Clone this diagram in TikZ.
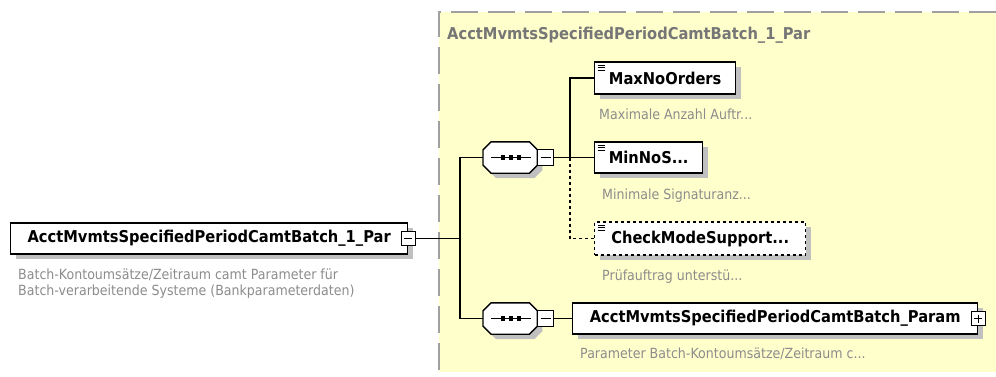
\documentclass[tikz,border=0pt]{standalone}
\usepackage{fontspec}
\setmainfont{DejaVu Sans}[FakeStretch=0.9]
\usetikzlibrary{positioning,shadows}
\definecolor{schemabg}{RGB}{255,255,204}
\definecolor{framegray}{RGB}{160,160,160}
\definecolor{descgray}{RGB}{140,140,140}
\definecolor{titlegray}{RGB}{118,118,118}
\definecolor{shadowgray}{RGB}{192,192,192}
\newcommand{\lblfont}{\fontsize{16.3}{19}\selectfont\bfseries}
\newcommand{\descfont}{\fontsize{14}{16}\selectfont}
\tikzset{
    boxshadow/.style={drop shadow={shadow xshift=5pt, shadow yshift=-5pt, fill=shadowgray, draw=none, opacity=1}},
    elem/.style={draw, fill=white, line width=1.4pt, inner sep=0pt, anchor=west, minimum height=31pt, font=\lblfont, boxshadow},
    leaf/.style={elem, path picture={
        \foreach \d in {3,5.5,8}
            \draw[solid, line width=0.9pt] ([xshift=3pt,yshift=-\d pt]path picture bounding box.north west) -- ++(7pt,0pt);
    }},
    optleaf/.style={leaf, dashed},
    desc/.style={anchor=west, inner sep=0pt, text=descgray, font=\descfont},
    seqbox/.style={minimum width=54pt, minimum height=31pt, inner sep=0pt, anchor=west},
    octagon/.style={draw, fill=white, line width=1.4pt},
    toggle/.style={draw, fill=white, line width=1pt, minimum size=14pt, inner sep=0pt},
    minus/.style={toggle, path picture={
        \draw[line width=1pt] ([xshift=3pt]path picture bounding box.west) -- ([xshift=-3pt]path picture bounding box.east);
    }},
    plus/.style={toggle, path picture={
        \draw[line width=1pt] ([xshift=3pt]path picture bounding box.west) -- ([xshift=-3pt]path picture bounding box.east);
        \draw[line width=1pt] ([yshift=-3pt]path picture bounding box.north) -- ([yshift=3pt]path picture bounding box.south);
    }},
    conn/.style={line width=1.4pt},
    frame/.style={draw=framegray, line width=2pt, dash pattern=on 27pt off 10pt}
}

\begin{document}
\begin{tikzpicture}[x=1pt, y=-1pt]
\useasboundingbox (0,0) rectangle (996,376);

% complex type region
\fill[schemabg] (439,12) rectangle (996,372);
\draw[frame] (996,12) -- (439,12) -- (439,372);
\node[anchor=west, inner sep=0pt, text=titlegray, font=\lblfont] (typeName) at (447,35) {AcctMvmtsSpecifiedPeriodCamtBatch\_1\_Par};

% root element
\node[elem, minimum width=397pt] (root) at (10,238.5) {AcctMvmtsSpecifiedPeriodCamtBatch\_1\_Par};
\node[minus] (rootT) at (root.east) {};
\node[desc, anchor=north west, align=left] (rootDesc) at (18,269) {Batch-Kontoumsätze/Zeitraum camt Parameter für\\Batch-verarbeitende Systeme (Bankparameterdaten)};

% sequences
\node[seqbox] (seqA) at (483,157.5) {};
\node[seqbox] (seqB) at (483,318.5) {};
\foreach \s in {seqA,seqB} {
    \fill[shadowgray, transform canvas={shift={(5pt,-5pt)}}]
        ([xshift=8pt]\s.north west) -- ([xshift=-8pt]\s.north east) -- ([yshift=-8pt]\s.north east)
        -- ([yshift=8pt]\s.south east) -- ([xshift=-8pt]\s.south east) -- ([xshift=8pt]\s.south west)
        -- ([yshift=8pt]\s.south west) -- ([yshift=-8pt]\s.north west) -- cycle;
    \draw[octagon]
        ([xshift=8pt]\s.north west) -- ([xshift=-8pt]\s.north east) -- ([yshift=-8pt]\s.north east)
        -- ([yshift=8pt]\s.south east) -- ([xshift=-8pt]\s.south east) -- ([xshift=8pt]\s.south west)
        -- ([yshift=8pt]\s.south west) -- ([yshift=-8pt]\s.north west) -- cycle;
    \draw[line width=1.3pt] ([xshift=-19pt]\s.center) -- ([xshift=21pt]\s.center);
    \foreach \dx in {-7,1,9}
        \fill ([xshift=\dx pt]\s.center) +(-2.2pt,-2.2pt) rectangle +(2.2pt,2.2pt);
}
\node[minus, minimum size=16pt, right=0pt of seqA] (seqAT) {};
\node[minus, minimum size=16pt, right=0pt of seqB] (seqBT) {};

% child elements
\node[leaf, minimum width=141pt, minimum height=32pt] (maxNoOrders) at (594,78) {MaxNoOrders};
\node[desc] (maxNoOrdersDesc) at ([xshift=5pt,yshift=-20pt]maxNoOrders.south west) {Maximale Anzahl Auftr...};
\node[leaf, minimum width=108pt] (minNoS) at (594,157.5) {MinNoS...};
\node[desc] (minNoSDesc) at ([xshift=8pt,yshift=-22pt]minNoS.south west) {Minimale Signaturanz...};
\node[optleaf, minimum width=211pt, minimum height=33pt] (checkMode) at (594,238.5) {CheckModeSupport...};
\node[desc] (checkModeDesc) at ([xshift=8pt,yshift=-21pt]checkMode.south west) {Prüfauftrag unterstü...};
\node[elem, minimum width=405pt] (param) at (572,318.5) {AcctMvmtsSpecifiedPeriodCamtBatch\_Param};
\node[plus] (paramT) at (param.east) {};
\node[desc] (paramDesc) at ([xshift=8pt,yshift=-19pt]param.south west) {Parameter Batch-Kontoumsätze/Zeitraum c...};

% connectors
\coordinate (rootFork) at (460,238.5);
\coordinate (seqFork) at (570,157.5);
\draw[conn] (rootT.east) -- (rootFork);
\draw[conn] (seqA.west) -| (rootFork) |- (seqB.west);
\draw[conn] (seqAT.east) -- (minNoS.west);
\draw[conn] (maxNoOrders.west) -| (seqFork);
\draw[conn, dashed] (seqFork) |- (checkMode.west);
\draw[conn] (seqBT.east) -- (param.west);
\end{tikzpicture}
\end{document}
